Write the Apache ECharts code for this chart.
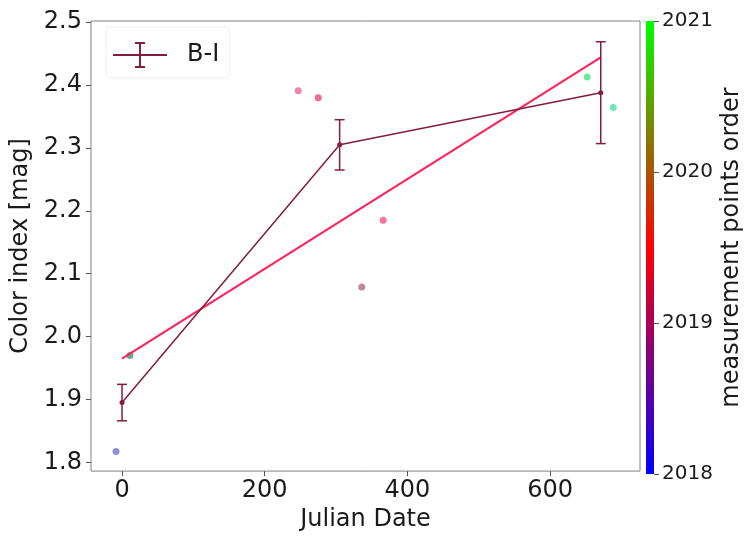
<!DOCTYPE html>
<html>
<head>
<meta charset="utf-8">
<script src="https://cdn.jsdelivr.net/npm/echarts@6/dist/echarts.min.js"></script>
<style>
  html, body { margin: 0; padding: 0; background: #fff; }
  #chart { width: 745px; height: 537px; }
</style>
</head>
<body>
<div id="chart"></div>
<script>
// B-I colour index: binned means with error bars
const binJd = [0, 305, 671];
const binCi = [1.895, 2.305, 2.388];
const binErr = [0.029, 0.040, 0.081];

// linear fit through the measurements
const fitJd = [0, 671];
const fitCi = [1.965, 2.444];

// individual measurements
const pointJd = [-8.4, 11, 247, 275, 336, 366, 652, 688.5];
const pointCi = [1.817, 1.970, 2.391, 2.380, 2.079, 2.185, 2.413, 2.3645];

// tick labels
const xTicks = [0, 200, 400, 600];
const yTicks = [1.8, 1.9, 2.0, 2.1, 2.2, 2.3, 2.4, 2.5];
const yearTicks = [2018, 2019, 2020, 2021];

// per-point colours (measurement order)
const pointColors = ['#6a6acc', '#2f8f6f', '#ec5a90', '#e83c6c', '#a8607e', '#f04878', '#3de07e', '#3ee0a0'];

const FONT = 'DejaVu Sans';
const ERR_COLOR = '#801d40';
const FIT_COLOR = '#ff1f5a';

const chart = echarts.init(document.getElementById('chart'), null, { renderer: 'canvas' });

const errData = binJd.map((x, i) => [x, binCi[i], binCi[i] - binErr[i], binCi[i] + binErr[i]]);

const option = {
  animation: false,
  backgroundColor: '#ffffff',
  textStyle: { fontFamily: FONT },
  grid: [
    { left: 91, right: 105, top: 21, bottom: 63, show: true, borderColor: '#808080', borderWidth: 1, backgroundColor: 'transparent' },
    { left: 646, width: 10, top: 21, bottom: 63, show: false }
  ],
  legend: {
    left: 106, top: 27,
    padding: [15, 10, 10, 7],
    borderColor: '#efefef', borderWidth: 1, borderRadius: 4,
    itemWidth: 54, itemHeight: 26,
    textStyle: { fontFamily: FONT, fontSize: 24, color: '#1a1a1a', padding: [0, 0, 0, 15] },
    data: [{
      name: 'B-I',
      icon: 'path://M0,12H54V14H0Z M26,1H28V25H26Z M22,0H32V2H22Z M22,24H32V26H22Z'
    }]
  },
  xAxis: [
    {
      type: 'value', gridIndex: 0, min: -43.5, max: 726,
      name: 'Julian Date', nameLocation: 'middle', nameGap: 34,
      nameTextStyle: { fontFamily: FONT, fontSize: 24, color: '#1a1a1a' },
      axisLine: { show: false, onZero: false },
      splitLine: { show: false },
      axisTick: { show: true, length: 5, lineStyle: { color: '#555' }, customValues: xTicks },
      axisLabel: { fontFamily: FONT, fontSize: 24, color: '#1a1a1a', margin: 8, customValues: xTicks, formatter: v => String(v) }
    },
    {
      type: 'value', gridIndex: 1, min: 0, max: 1, show: false
    }
  ],
  yAxis: [
    {
      type: 'value', gridIndex: 0, min: 1.786, max: 2.502,
      name: 'Color index [mag]', nameLocation: 'middle', nameGap: 56, nameRotate: 90,
      nameTextStyle: { fontFamily: FONT, fontSize: 24, color: '#1a1a1a' },
      axisLine: { show: false, onZero: false },
      splitLine: { show: false },
      axisTick: { show: true, length: 5, lineStyle: { color: '#555' }, customValues: yTicks },
      axisLabel: { fontFamily: FONT, fontSize: 24, color: '#1a1a1a', margin: 9, customValues: yTicks, formatter: v => v.toFixed(1) }
    },
    {
      type: 'value', gridIndex: 1, min: 2018, max: 2021, interval: 1, position: 'right',
      name: 'measurement points order', nameLocation: 'middle', nameGap: 66, nameRotate: 90,
      nameTextStyle: { fontFamily: FONT, fontSize: 24, color: '#1a1a1a' },
      axisLine: { show: false, onZero: false },
      splitLine: { show: false },
      axisTick: { show: true, length: 5, lineStyle: { color: '#555' } },
      axisLabel: { fontFamily: FONT, fontSize: 20, color: '#1a1a1a', margin: 8, formatter: v => String(v) }
    }
  ],
  series: [
    {
      // colour bar
      type: 'custom', xAxisIndex: 1, yAxisIndex: 1, silent: true,
      data: [[0, yearTicks[0], 1, yearTicks[yearTicks.length - 1]]],
      renderItem: (params, api) => {
        const p0 = api.coord([api.value(0), api.value(3)]);
        const p1 = api.coord([api.value(2), api.value(1)]);
        return {
          type: 'rect',
          shape: { x: p0[0], y: p0[1], width: p1[0] - p0[0], height: p1[1] - p0[1] },
          style: {
            fill: new echarts.graphic.LinearGradient(0, 0, 0, 1, [
              { offset: 0, color: '#00ff00' },
              { offset: 0.5, color: '#ff0000' },
              { offset: 1, color: '#0000ff' }
            ])
          }
        };
      }
    },
    {
      name: 'points', type: 'scatter', xAxisIndex: 0, yAxisIndex: 0,
      symbolSize: 7, z: 3,
      data: pointJd.map((x, i) => ({
        value: [x, pointCi[i]],
        itemStyle: { color: pointColors[i], opacity: 0.75 }
      }))
    },
    {
      name: 'fit', type: 'line', xAxisIndex: 0, yAxisIndex: 0,
      showSymbol: false, symbol: 'none', z: 4,
      lineStyle: { color: FIT_COLOR, width: 2 },
      data: fitJd.map((x, i) => [x, fitCi[i]])
    },
    {
      name: 'B-I', type: 'line', xAxisIndex: 0, yAxisIndex: 0,
      symbol: 'circle', symbolSize: 5, z: 5,
      itemStyle: { color: ERR_COLOR },
      lineStyle: { color: ERR_COLOR, width: 1.5 },
      data: binJd.map((x, i) => [x, binCi[i]])
    },
    {
      name: 'B-I', type: 'custom', xAxisIndex: 0, yAxisIndex: 0, z: 5,
      itemStyle: { color: ERR_COLOR },
      data: errData,
      renderItem: (params, api) => {
        const x = api.value(0);
        const lo = api.coord([x, api.value(2)]);
        const hi = api.coord([x, api.value(3)]);
        const cap = 5;
        const style = { stroke: ERR_COLOR, lineWidth: 1.5, fill: null };
        return {
          type: 'group',
          children: [
            { type: 'line', shape: { x1: lo[0], y1: lo[1], x2: hi[0], y2: hi[1] }, style },
            { type: 'line', shape: { x1: lo[0] - cap, y1: lo[1], x2: lo[0] + cap, y2: lo[1] }, style },
            { type: 'line', shape: { x1: hi[0] - cap, y1: hi[1], x2: hi[0] + cap, y2: hi[1] }, style }
          ]
        };
      }
    }
  ]
};

chart.setOption(option);
</script>
</body>
</html>
